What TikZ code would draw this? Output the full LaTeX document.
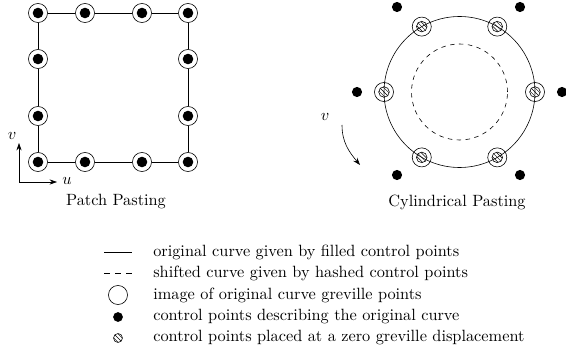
\documentclass[tikz,border=0pt]{standalone}
\usetikzlibrary{arrows.meta, positioning}

\begin{document}
\begin{tikzpicture}[x=0.0236cm, y=0.0236cm, font=\fontsize{10.95}{13}\selectfont]
	\tikzstyle{gpt} = [circle, draw=black, minimum size=0.45cm, inner sep=0pt,
		path picture={\fill[black] (path picture bounding box.center) circle (0.125cm);}]
	\tikzstyle{ring} = [circle, draw=black, minimum size=0.45cm, inner sep=0pt]
	\tikzstyle{ctrl} = [circle, fill=black, minimum size=0.24cm, inner sep=0pt]
	\tikzstyle{hashed} = [circle, draw=black, minimum size=0.25cm, inner sep=0pt,
		path picture={\foreach \o in {-1.4pt,0pt,1.4pt}
			\draw[line width=0.3pt] ([xshift=\o, yshift=\o]path picture bounding box.north west) -- ([xshift=\o, yshift=\o]path picture bounding box.south east);}]
	\tikzstyle{arrow} = [-{Stealth[length=5pt, width=3.5pt]}]

	\useasboundingbox (0,0) rectangle (566,354);

	% patch pasting
	\node[gpt] (t1) at (38,341) {};
	\node[gpt] (t2) at (85,341) {};
	\node[gpt] (t3) at (142,341) {};
	\node[gpt] (t4) at (188,341) {};
	\node[gpt] (l2) at (38,295) {};
	\node[gpt] (l3) at (38,238) {};
	\node[gpt] (r2) at (188,295) {};
	\node[gpt] (r3) at (188,238) {};
	\node[gpt] (b1) at (38,192) {};
	\node[gpt] (b2) at (85,192) {};
	\node[gpt] (b3) at (142,192) {};
	\node[gpt] (b4) at (188,192) {};

	\draw (t1) -- (t2) -- (t3) -- (t4);
	\draw (b1) -- (b2) -- (b3) -- (b4);
	\draw (t1) -- (l2) -- (l3) -- (b1);
	\draw (t4) -- (r2) -- (r3) -- (b4);

	\coordinate (o) at (19,172);
	\coordinate (ov) at (19,211);
	\coordinate (ou) at (57,172);
	\draw[arrow] (o) -- (ov);
	\draw[arrow] (o) -- (ou);
	\node (vlab) at (12,218) {$v$};
	\node (ulab) at (67,173) {$u$};

	\node (patch) at (116,152) {Patch Pasting};

	% cylindrical pasting
	\coordinate (c) at (459.5,262);
	\draw (c) circle (75.5);
	\draw[dashed] (c) circle (48);
	\foreach \a in {0,60,...,300} {
		\node[ring] (g\a) at ([shift={(\a:75.5)}]c) {};
		\node[hashed] at (g\a) {};
	}

	\node[ctrl] (k1) at (397,347) {};
	\node[ctrl] (k2) at (520,347) {};
	\node[ctrl] (k3) at (357,262) {};
	\node[ctrl] (k4) at (562,262) {};
	\node[ctrl] (k5) at (397,179) {};
	\node[ctrl] (k6) at (520,179) {};

	\node (vcyl) at (325,237) {$v$};
	\coordinate (s1) at (342,229);
	\coordinate (s2) at (360,189);
	\draw[arrow] (s1) to[out=-90, in=130] (s2);

	\node (cyl) at (457,152) {Cylindrical Pasting};

	% legend
	\coordinate (la) at (104,102);
	\coordinate (lb) at (132,102);
	\draw (la) -- (lb);
	\coordinate (da) at (104,81);
	\coordinate (db) at (132,81);
	\draw[dash pattern=on 4pt off 3.4pt] (da) -- (db);
	\node[ring] (lg3) at (118,59) {};
	\node[ctrl, minimum size=0.23cm] (lg4) at (118,37) {};
	\node[hashed, minimum size=0.21cm] (lg5) at (118,16) {};

	\node[anchor=west] (txt1) at (148,102) {original curve given by filled control points};
	\node[anchor=west] (txt2) at (148,81) {shifted curve given by hashed control points};
	\node[anchor=west] (txt3) at (148,59) {image of original curve greville points};
	\node[anchor=west] (txt4) at (148,37) {control points describing the original curve};
	\node[anchor=west] (txt5) at (148,16) {control points placed at a zero greville displacement};
\end{tikzpicture}
\end{document}
